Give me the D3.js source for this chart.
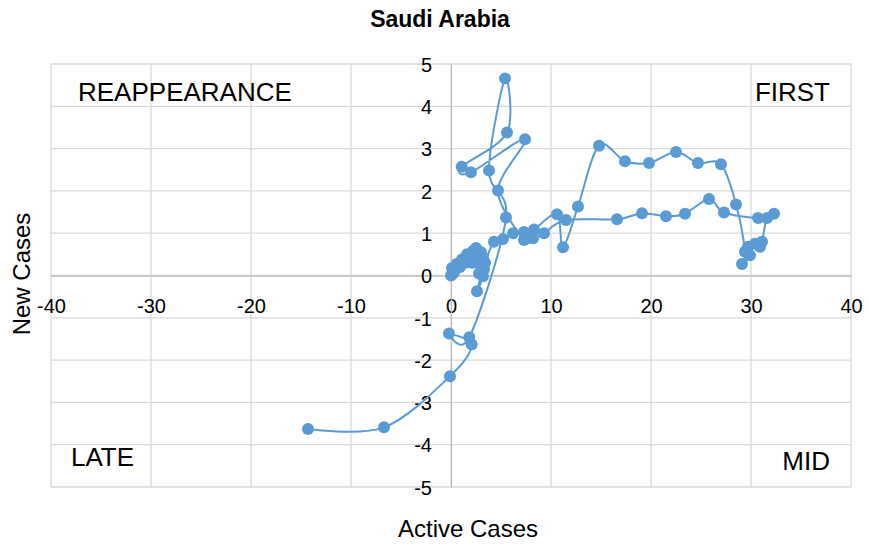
<!DOCTYPE html>
<html>
<head>
<meta charset="utf-8">
<script src="https://cdn.jsdelivr.net/npm/d3@7/dist/d3.min.js"></script>
<style>
  html, body { margin: 0; padding: 0; background: #ffffff; }
  svg { display: block; font-family: "Liberation Sans", Arial, sans-serif; }
</style>
</head>
<body>
<svg id="chart" width="869" height="546"></svg>
<script>
// Trajectory of Saudi Arabia: active cases (x) against new cases (y), in time order
const activeCases = [
  0, 0.2, 0.1, 0.4, 0.6, 0.9, 1.1, 1.4, 1.6, 1.9, 2.2, 2.5, 2.1, 2.7, 3.0, 3.2, 2.9, 3.3, 2.8, 3.2, 2.6, 3.4,
  4.3, 5.2, 6.2, 7.3, 8.3, 10.6, 11.2, 12.7,
  14.8, 17.4, 19.8, 22.5, 24.7, 27.0, 28.5,
  29.4, 29.1, 29.9, 29.7, 30.4, 30.9, 31.1, 31.6, 32.3, 30.7,
  27.3, 25.8, 23.4, 21.5, 19.1, 16.6, 11.5, 9.3, 8.2, 7.3,
  4.7, 7.4, 2.0, 1.07, 5.6, 5.4, 3.8, 5.5,
  1.83, -0.2, 2.07, -0.1, -6.7, -14.3
];
const newCases = [
  0, 0.05, 0.18, 0.12, 0.28, 0.2, 0.38, 0.3, 0.5, 0.42, 0.58, 0.65, 0.3, 0.45, 0.55, 0.42, 0.25, 0.15, 0.05, -0.02, -0.37, 0.3,
  0.80, 0.86, 1.0, 1.03, 1.09, 1.45, 0.67, 1.63,
  3.07, 2.70, 2.66, 2.92, 2.66, 2.63, 1.68,
  0.56, 0.27, 0.48, 0.68, 0.75, 0.68, 0.80, 1.36, 1.46, 1.36,
  1.49, 1.81, 1.46, 1.40, 1.47, 1.33, 1.31, 1.0, 0.88, 0.84,
  2.01, 3.22, 2.44, 2.57, 3.38, 4.66, 2.48, 1.37,
  -1.46, -1.37, -1.63, -2.38, -3.59, -3.63
];

const xTicks = [-40, -30, -20, -10, 0, 10, 20, 30, 40];
const yTicks = [-5, -4, -3, -2, -1, 0, 1, 2, 3, 4, 5];
const quadrantLabels = ["REAPPEARANCE", "FIRST", "LATE", "MID"];

const points = activeCases.map((a, i) => ({ x: a, y: newCases[i] }));

const svg = d3.select("#chart");
const plotLeft = 51, plotRight = 851, plotTop = 64, plotBottom = 487;
const x = d3.scaleLinear().domain([-40, 40]).range([plotLeft, plotRight]);
const y = d3.scaleLinear().domain([-5, 5]).range([plotBottom, plotTop]);

const gridColor = "#d9d9d9";
const axisColor = "#bfbfbf";
const blue = "#5b9bd5";
const fmt = d => String(d); // plain hyphen for negatives

// gridlines
const grid = svg.append("g");
grid.selectAll(".vg").data(xTicks).join("line")
  .attr("x1", d => x(d)).attr("x2", d => x(d))
  .attr("y1", plotTop).attr("y2", plotBottom)
  .attr("stroke", gridColor).attr("stroke-width", 1.3);
grid.selectAll(".hg").data(yTicks).join("line")
  .attr("x1", plotLeft).attr("x2", plotRight)
  .attr("y1", d => y(d)).attr("y2", d => y(d))
  .attr("stroke", gridColor).attr("stroke-width", 1.3);

// axes crossing at the origin
const xAxis = d3.axisBottom(x).tickValues(xTicks).tickFormat(fmt).tickSize(0).tickPadding(21);
const yAxis = d3.axisLeft(y).tickValues(yTicks).tickFormat(fmt).tickSize(0).tickPadding(19);

const gx = svg.append("g").attr("transform", `translate(0,${y(0)})`).call(xAxis);
const gy = svg.append("g").attr("transform", `translate(${x(0)},0)`).call(yAxis);
[gx, gy].forEach(g => {
  g.select(".domain").attr("stroke", axisColor).attr("stroke-width", 1.3);
  g.selectAll("text").attr("fill", "#000").attr("font-size", 20)
    .attr("font-family", "'Liberation Sans', Arial, sans-serif");
});
gx.selectAll("text").attr("dy", "0.36em").attr("y", 30);
gy.selectAll("text").attr("dy", "0.36em");

// trajectory
const line = d3.line().x(d => x(d.x)).y(d => y(d.y)).curve(d3.curveCardinal.tension(0));
svg.append("path").datum(points)
  .attr("d", line).attr("fill", "none")
  .attr("stroke", blue).attr("stroke-width", 2);

svg.append("g").selectAll("circle").data(points).join("circle")
  .attr("cx", d => x(d.x)).attr("cy", d => y(d.y)).attr("r", 6)
  .attr("fill", blue);

// quadrant labels
const qFont = 26;
svg.append("text").attr("x", 78).attr("y", 101).attr("font-size", qFont).text(quadrantLabels[0]);
svg.append("text").attr("x", 830).attr("y", 101).attr("font-size", qFont).attr("text-anchor", "end").text(quadrantLabels[1]);
svg.append("text").attr("x", 71).attr("y", 466).attr("font-size", qFont).text(quadrantLabels[2]);
svg.append("text").attr("x", 830).attr("y", 470).attr("font-size", qFont).attr("text-anchor", "end").text(quadrantLabels[3]);

// titles
svg.append("text").attr("x", 440).attr("y", 27).attr("text-anchor", "middle")
  .attr("font-size", 23).attr("font-weight", "bold").text("Saudi Arabia");
svg.append("text").attr("x", 468).attr("y", 537).attr("text-anchor", "middle")
  .attr("font-size", 24).text("Active Cases");
svg.append("text").attr("transform", "translate(30,274) rotate(-90)")
  .attr("text-anchor", "middle").attr("font-size", 24).text("New Cases");
</script>
</body>
</html>
